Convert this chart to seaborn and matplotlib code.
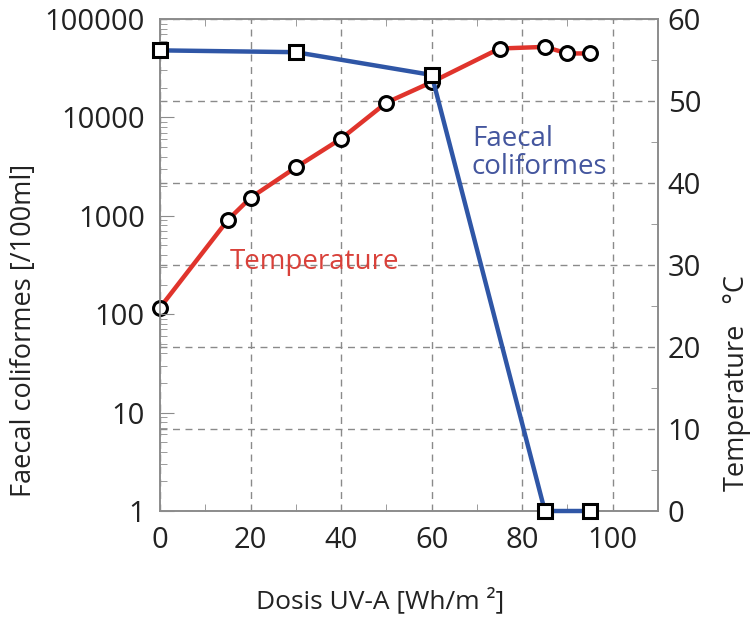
import numpy as np
import pandas as pd
import seaborn as sns
import matplotlib.pyplot as plt
from matplotlib.ticker import FixedLocator, LogLocator, MultipleLocator, NullFormatter

# Data
dose_fc = [0, 30, 60, 85, 95]
faecal = [48000, 46000, 27000, 1, 1]

dose_temp = [0, 15, 20, 30, 40, 50, 60, 75, 85, 90, 95]
temperature = [24.8, 35.5, 38.2, 41.9, 45.4, 49.8, 52.3, 56.4, 56.6, 55.8, 55.8]

left_ticks = [1, 10, 100, 1000, 10000, 100000]
left_labels = ['1', '10', '100', '1000', '10000', '100000']

fc_df = pd.DataFrame({'dose': dose_fc, 'fc': faecal})
temp_df = pd.DataFrame({'dose': dose_temp, 'temp': temperature})

sns.set_style('white')
plt.rcParams['font.family'] = ['Open Sans', 'DejaVu Sans']

blue = '#2f56a6'
red = '#e0342c'
grid_c = '#8a8a8a'
spine_c = '#8c8c8c'
text_c = '#222222'

fig = plt.figure(figsize=(7.53, 6.25), dpi=100)
ax = fig.add_axes([0.2125, 0.1824, 0.6614, 0.7872])
ax2 = ax.twinx()

# temperature axis behind, coliform axis in front
ax.set_zorder(ax2.get_zorder() + 1)
ax.patch.set_visible(False)
ax2.xaxis.set_visible(True)

marker_kw = dict(markerfacecolor='white', markeredgecolor='black',
                 markeredgewidth=2.2, clip_on=False)

sns.lineplot(data=temp_df, x='dose', y='temp', ax=ax2, color=red, lw=3.2,
             marker='o', markersize=10, zorder=3, **marker_kw)
sns.lineplot(data=fc_df, x='dose', y='fc', ax=ax, color=blue, lw=3.2,
             marker='s', markersize=10, zorder=3, **marker_kw)

ax.set_xlim(0, 110)
ax.set_yscale('log')
ax.set_ylim(1, 100000)
ax2.set_ylim(0, 60)

ax.yaxis.set_major_locator(FixedLocator(left_ticks))
ax.set_yticklabels(left_labels)
ax.yaxis.set_minor_locator(LogLocator(base=10, subs=np.arange(2, 10)))
ax.yaxis.set_minor_formatter(NullFormatter())

ax.xaxis.set_major_locator(MultipleLocator(20))
ax.xaxis.set_minor_locator(MultipleLocator(10))
ax2.xaxis.set_major_locator(MultipleLocator(20))
ax2.yaxis.set_major_locator(MultipleLocator(10))
ax2.yaxis.set_minor_locator(MultipleLocator(5))

# dashed grid: x at major dose ticks, y at temperature ticks
ax2.grid(True, which='major', axis='both', linestyle=(0, (5, 4)),
         color=grid_c, lw=1.0)
ax2.set_axisbelow(True)
ax.grid(False)

for a in (ax, ax2):
    for s in a.spines.values():
        s.set_color(spine_c)
        s.set_linewidth(1.2)

ax.tick_params(axis='x', which='both', direction='in', top=True, bottom=True,
               color=spine_c, labelsize=21, labelcolor=text_c, pad=11)
ax.tick_params(axis='x', which='major', length=0)
ax.tick_params(axis='x', which='minor', length=5)
ax.tick_params(axis='y', which='major', direction='in', length=10, color=spine_c,
               labelsize=21, labelcolor=text_c, pad=11, right=False)
ax.tick_params(axis='y', which='minor', direction='in', length=5, color=spine_c,
               right=False)
ax2.tick_params(axis='y', which='major', direction='in', length=0, color=spine_c,
                labelsize=21, labelcolor=text_c, pad=7)
ax2.tick_params(axis='y', which='minor', direction='in', length=5, color=spine_c)
ax2.tick_params(axis='x', which='both', bottom=False, top=False,
                labelbottom=False, labeltop=False, length=0)
ax2.set_xlabel('')

ax.set_xlabel('Dosis UV-A [Wh/m ²]', fontsize=19, color=text_c)
ax.xaxis.set_label_coords(0.442, -0.155)
ax.set_ylabel('Faecal coliformes [/100ml]', fontsize=19.5, color=text_c)
ax.yaxis.set_label_coords(-0.245, 0.368)
ax2.set_ylabel('Temperature   °C', fontsize=19.5, color=text_c)
ax2.yaxis.set_label_coords(1.13, 0.26)

ax2.text(15.5, 30.4, 'Temperature', color='#d9413a', fontsize=20,
         ha='left', va='center')
ax2.text(68.9, 43.7, 'Faecal\ncoliformes', color='#44569e', fontsize=20,
         ha='left', va='center', linespacing=1.0)

fig.savefig('out.png', dpi=100)
